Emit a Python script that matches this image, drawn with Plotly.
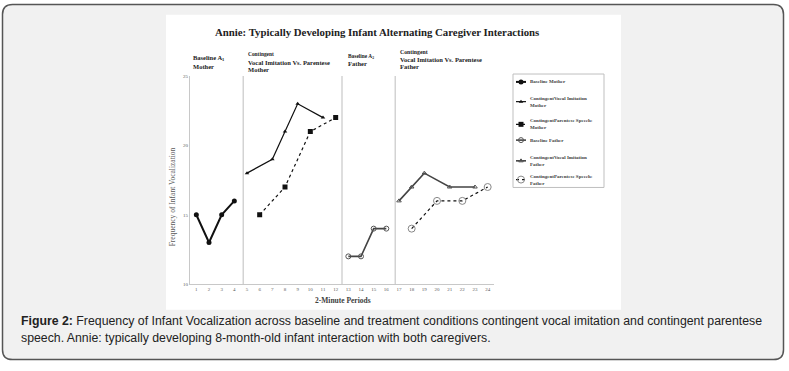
import plotly.graph_objects as go

W, H = 789, 371

# ---------------- data ----------------
periods_ticks = list(range(1, 25))

bl_mother_x = [1, 2, 3, 4]
bl_mother_y = [15, 13, 15, 16]

vi_mother_x = [5, 7, 8, 9, 11]
vi_mother_y = [18, 19, 21, 23, 22]

pa_mother_x = [6, 8, 10, 12]
pa_mother_y = [15, 17, 21, 22]

bl_father_x = [13, 14, 15, 16]
bl_father_y = [12, 12, 14, 14]

vi_father_x = [17, 18, 19, 21, 23]
vi_father_y = [16, 17, 18, 17, 17]

pa_father_x = [18, 20, 22, 24]
pa_father_y = [14, 16, 16, 17]

phase_lines = [4.7, 12.5, 16.7]
y_ticks = [10, 15, 20, 25]

series_names = [
    "Baseline Mother",
    "ContingentVocal Imitation<br>Mother",
    "ContingentParentese Speech:<br>Mother",
    "Baseline Father",
    "ContingentVocal Imitation<br>Father",
    "ContingentParentese Speech:<br>Father",
]

# ---------------- helpers ----------------
def px(x):
    return x / W

def py(y):
    return 1 - y / H

SERIF = "Liberation Serif"
SANS = "Liberation Sans"

styles = [
    dict(line=dict(color="#111111", width=2), marker=dict(symbol="circle", size=5, color="#111111")),
    dict(line=dict(color="#111111", width=1.2), marker=dict(symbol="triangle-up", size=4, color="#111111")),
    dict(line=dict(color="#111111", width=1.2, dash="dot"), marker=dict(symbol="square", size=5, color="#111111")),
    dict(line=dict(color="#444444", width=1.6), marker=dict(symbol="circle-open", size=5, color="#555555", line=dict(width=1))),
    dict(line=dict(color="#444444", width=1.6), marker=dict(symbol="triangle-up-open", size=4, color="#555555", line=dict(width=1))),
    dict(line=dict(color="#111111", width=1.2, dash="dot"), marker=dict(symbol="circle-open", size=7, color="#888888", line=dict(width=1))),
]

data_sets = [
    (bl_mother_x, bl_mother_y),
    (vi_mother_x, vi_mother_y),
    (pa_mother_x, pa_mother_y),
    (bl_father_x, bl_father_y),
    (vi_father_x, vi_father_y),
    (pa_father_x, pa_father_y),
]

fig = go.Figure()

for (xs, ys), st, nm in zip(data_sets, styles, series_names):
    fig.add_trace(go.Scatter(x=xs, y=ys, mode="lines+markers", name=nm,
                             line=st["line"], marker=st["marker"],
                             showlegend=False, xaxis="x", yaxis="y"))

# ---------------- manual legend (pixel overlay axis) ----------------
legend_y = [81, 101, 124, 140, 161, 180]
for st, nm, ly in zip(styles, series_names, legend_y):
    fig.add_trace(go.Scatter(x=[516, 521, 526], y=[ly, ly, ly], mode="lines",
                             line=dict(color=st["line"]["color"], width=st["line"]["width"],
                                       dash=st["line"].get("dash", "solid")),
                             showlegend=False, xaxis="x2", yaxis="y2", hoverinfo="skip"))
    fig.add_trace(go.Scatter(x=[521], y=[ly], mode="markers", marker=st["marker"],
                             showlegend=False, xaxis="x2", yaxis="y2", hoverinfo="skip"))

shapes = []
# page panel with rounded corners
x0, y0, x1, y1, r = 2.5, 2.5, 783.5, 362.5, 10
path = (f"M {px(x0+r)},{py(y0)} L {px(x1-r)},{py(y0)} "
        f"Q {px(x1)},{py(y0)} {px(x1)},{py(y0+r)} L {px(x1)},{py(y1-r)} "
        f"Q {px(x1)},{py(y1)} {px(x1-r)},{py(y1)} L {px(x0+r)},{py(y1)} "
        f"Q {px(x0)},{py(y1)} {px(x0)},{py(y1-r)} L {px(x0)},{py(y0+r)} "
        f"Q {px(x0)},{py(y0)} {px(x0+r)},{py(y0)} Z")
shapes.append(dict(type="path", path=path, xref="paper", yref="paper",
                   line=dict(color="#555555", width=1.5), fillcolor="#f1f1f1", layer="below"))
# white chart image area
shapes.append(dict(type="rect", xref="paper", yref="paper",
                   x0=px(166), x1=px(621), y0=py(312), y1=py(13),
                   line=dict(width=0), fillcolor="white", layer="below"))
# legend box
shapes.append(dict(type="rect", xref="paper", yref="paper",
                   x0=px(513), x1=px(604), y0=py(188), y1=py(73),
                   line=dict(color="#bfbfbf", width=1), fillcolor="rgba(0,0,0,0)"))
# phase change lines
for xl in phase_lines:
    shapes.append(dict(type="line", xref="x", yref="y", x0=xl, x1=xl, y0=10, y1=25,
                       line=dict(color="#c8c8c8", width=1.2)))

annotations = []

def ann(text, x, y, size, family=SERIF, color="#222222", xanchor="left", yanchor="middle", **kw):
    annotations.append(dict(text=text, x=px(x), y=py(y), xref="paper", yref="paper",
                            showarrow=False, xanchor=xanchor, yanchor=yanchor,
                            font=dict(size=size, family=family, color=color), **kw))

ann("<b>Annie: Typically Developing Infant Alternating Caregiver Interactions</b>",
    377, 30, 10.8, xanchor="center")

# phase labels
ann("<b>Baseline A<sub>1</sub></b>", 191, 57, 6.5)
ann("<b>Mother</b>", 191, 65, 6.5)
ann("<b>Contingent</b>", 246, 53, 5.4)
ann("<b>Vocal Imitation Vs. Parentese</b>", 246, 61, 6.5)
ann("<b>Mother</b>", 246, 68, 6.5)
ann("<b>Baseline A<sub>2</sub></b>", 346, 55, 5.4)
ann("<b>Father</b>", 346, 62, 6.5)
ann("<b>Contingent</b>", 398, 51, 5.8)
ann("<b>Vocal Imitation Vs. Parentese</b>", 398, 58, 6.5)
ann("<b>Father</b>", 398, 65, 6.5)

# axis titles
ann("Frequency of Infant Vocalization", 172, 198, 7.5, color="#595959",
    xanchor="center", textangle=-90)
ann("<b>2-Minute Periods</b>", 343, 303, 7.5, color="#404040", xanchor="center")

# legend labels
for nm, ly in zip(series_names, legend_y):
    annotations.append(dict(text="<b>" + nm.replace("<br>", "</b><br><b>") + "</b>",
                            x=px(528), y=py(ly), xref="paper", yref="paper",
                            showarrow=False, xanchor="left", yanchor="middle", align="left",
                            font=dict(size=5, family=SERIF, color="#404040")))

# caption
ann("<b>Figure 2:</b> Frequency of Infant Vocalization across baseline and treatment conditions contingent vocal imitation and contingent parentese",
    19, 323, 12.3, family=SANS, color="#222222")
ann("speech. Annie: typically developing 8-month-old infant interaction with both caregivers.",
    19, 341, 12.3, family=SANS, color="#222222")

fig.update_layout(
    width=W, height=H, autosize=False,
    margin=dict(l=0, r=0, t=0, b=0),
    paper_bgcolor="white", plot_bgcolor="rgba(0,0,0,0)",
    showlegend=False,
    shapes=shapes, annotations=annotations,
    xaxis=dict(domain=[px(190), px(494)], range=[0.5, 24.5], tickvals=periods_ticks,
               ticktext=[str(t) for t in periods_ticks], showgrid=False, zeroline=False,
               showline=True, linecolor="#c8c8c8", linewidth=1.2, ticks="",
               tickfont=dict(size=5, family=SERIF, color="#595959"), anchor="y"),
    yaxis=dict(domain=[py(286), py(75)], range=[10, 25], tickvals=y_ticks,
               showgrid=False, zeroline=False, showline=True, linecolor="#c8c8c8",
               linewidth=1.2, ticks="", tickfont=dict(size=5, family=SERIF, color="#595959"),
               anchor="x"),
    xaxis2=dict(domain=[0, 1], range=[0, W], visible=False, anchor="y2"),
    yaxis2=dict(domain=[0, 1], range=[H, 0], visible=False, anchor="x2"),
)

fig.write_html("out.html", config={"displayModeBar": False},
               post_script="document.body.style.margin='0';document.body.style.overflow='hidden';")
